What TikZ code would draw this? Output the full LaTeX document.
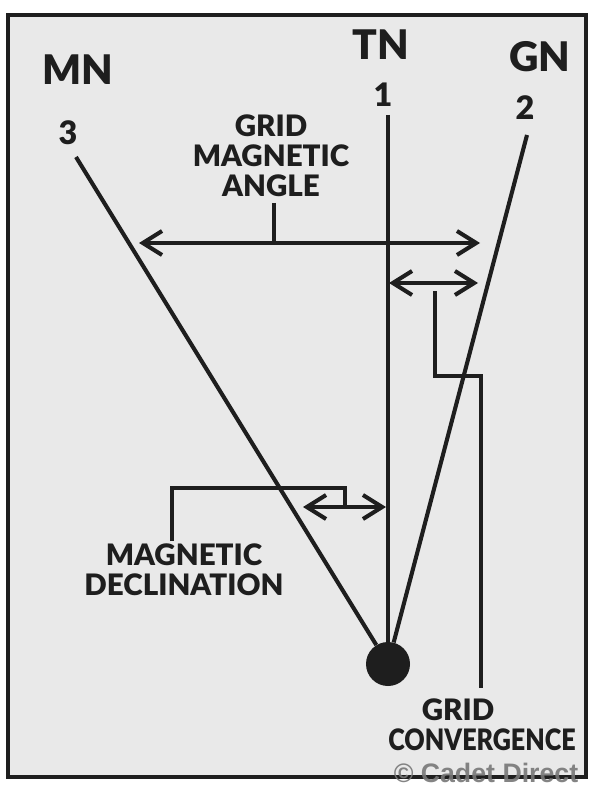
\documentclass[tikz,border=0pt]{standalone}
\usepackage{fontspec}
\usepackage{graphicx}
\setmainfont{Lato}[BoldFont={Lato Black}]
\newfontfamily\cpfont{Liberation Sans}
\usetikzlibrary{arrows.meta}
\definecolor{ink}{HTML}{1E1E1E}
\definecolor{bg}{HTML}{E9E9E9}
\definecolor{cpgray}{HTML}{777777}
\begin{document}
\begin{tikzpicture}[x=0.025cm,y=-0.025cm,
  ln/.style={line width=2.9pt, draw=ink},
  tip/.tip={Straight Barb[length=4.8mm,width=6mm]},
  dbl/.style={ln, tip-tip},
  big/.style={font=\bfseries\fontsize{29}{30}\selectfont, text=ink, inner sep=0pt},
  num/.style={font=\bfseries\fontsize{23}{24}\selectfont, text=ink, inner sep=0pt},
  lbl/.style={font=\bfseries\fontsize{21}{21.5}\selectfont, text=ink, inner sep=0pt, align=center},
  dot/.style={circle, fill=ink, minimum size=1.1cm, inner sep=0pt}
]
\useasboundingbox (0,0) rectangle (600,800);
\fill[white] (0,0) rectangle (600,800);
\draw[line width=3pt, draw=ink, fill=bg] (8,15) rectangle (586,777);

% headings
\node[big] (mn) at (78,70) {MN};
\node[big] (tn) at (381,45) {TN};
\node[big] (gn) at (540,57) {GN};
\node[num] (n3) at (68,133) {3};
\node[num] (n1) at (383,95) {1};
\node[num] (n2) at (525,108) {2};

% origin dot
\node[dot] (o) at (388,664) {};

% north lines
\coordinate (mns) at (76,157);
\coordinate (tns) at (388,115);
\coordinate (gns) at (527,135);
\draw[ln] (mns) -- (o);
\draw[ln] (tns) -- (o);
\draw[ln] (gns) -- (o);

% grid magnetic angle
\node[lbl] (gma) at (271,156) {GRID\\MAGNETIC\\ANGLE};
\coordinate (gmaL) at (139,243);
\coordinate (gmaR) at (480,243);
\coordinate (gmaS) at (274,203);
\coordinate (gmaM) at (274,243);
\draw[dbl] (gmaL) -- (gmaR);
\draw[ln] (gmaS) -- (gmaM);

% grid convergence
\coordinate (gcL) at (389,283);
\coordinate (gcR) at (478,283);
\draw[dbl] (gcL) -- (gcR);
\coordinate (gc0) at (435,291);
\coordinate (gc1) at (435,376);
\coordinate (gc2) at (481,376);
\coordinate (gc3) at (481,688);
\draw[ln] (gc0) -- (gc1) -- (gc2) -- (gc3);
\node[lbl] (gct1) at (458,710) {GRID};
\node[lbl] (gct2) at (482,740) {\scalebox{0.85}[1]{CONVERGENCE}};

% magnetic declination
\coordinate (mdL) at (303,507);
\coordinate (mdR) at (386,507);
\draw[dbl] (mdL) -- (mdR);
\coordinate (md0) at (172,541);
\coordinate (md1) at (172,488);
\coordinate (md2) at (345,488);
\coordinate (md3) at (345,507);
\draw[ln] (md0) -- (md1) -- (md2) -- (md3);
\node[lbl] (md) at (184,570) {MAGNETIC\\DECLINATION};

% copyright
\node[font=\cpfont\bfseries\fontsize{19}{20}\selectfont, text=cpgray, text opacity=0.9, inner sep=0pt] (cp) at (486,773) {© Cadet Direct};
\end{tikzpicture}
\end{document}
